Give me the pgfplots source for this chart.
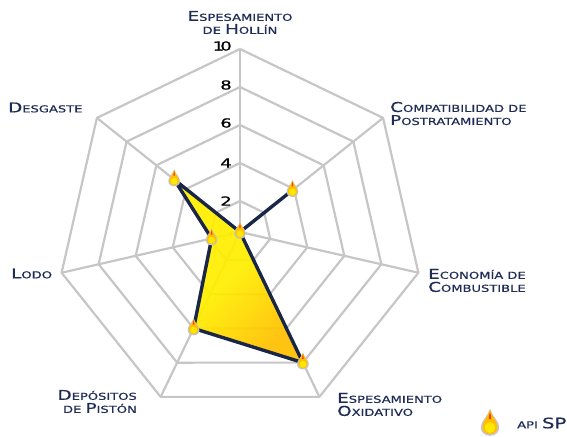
\documentclass[border=0pt]{standalone}
\usepackage{fontspec}
\usepackage{pgfplots}
\usepackage{pgfplotstable}
\pgfplotsset{compat=1.18}
\setmainfont{DejaVu Sans}
\newfontfamily\eu[FakeStretch=1.36,FakeBold=0.6]{DejaVu Sans}
\newfontfamily\tickf[FakeStretch=1.45,FakeBold=0.8]{DejaVu Sans}
\definecolor{navy}{HTML}{1A2647}
\definecolor{gridg}{HTML}{C6C6C6}
\definecolor{labc}{HTML}{1F2C55}
\definecolor{ylw}{HTML}{FFEE00}
\definecolor{org}{HTML}{FFBE00}
\newcommand{\Cp}[2]{{\fontsize{13.5}{13}\selectfont #1}{\fontsize{9.6}{13}\selectfont #2}}
\tikzset{lbl/.style={inner sep=0pt,text=labc,font=\eu\fontsize{9.6}{13}\selectfont},
         tk/.style={anchor=east,font=\tickf\fontsize{12.5}{14}\selectfont,inner sep=0pt}}
\pgfplotstableread{
k v
0 10
1 10
2 10
3 10
4 10
5 10
6 10
7 10
}\ringA
\pgfplotstableread{
n v
0 0.37
1 10
}\spoke
\pgfplotstableread{
k v
0 0.37
1 3.9
2 0.37
3 8
4 6
5 1.9
6 4.8
7 0.37
}\series
\pgfplotstableread{
k v
0 0.37
1 3.9
3 8
4 6
5 1.9
6 4.8
}\points
\newcommand{\px}{240+(19*\thisrow{v}-7)*sin(\thisrow{k}*360/7)}
\newcommand{\py}{232-(19*\thisrow{v}-7)*cos(\thisrow{k}*360/7)}
\pgfdeclareplotmark{dropshape}{%
  \pgfsetlinewidth{0pt}%
  \pgfsetfillcolor{black!22}%
  \pgfpathmoveto{\pgfqpoint{0pt}{11pt}}%
  \pgfpathcurveto{\pgfqpoint{1pt}{6pt}}{\pgfqpoint{6.2pt}{3pt}}{\pgfqpoint{6.2pt}{-1.5pt}}%
  \pgfpathcurveto{\pgfqpoint{6.2pt}{-5pt}}{\pgfqpoint{3.4pt}{-7.2pt}}{\pgfqpoint{0pt}{-7.2pt}}%
  \pgfpathcurveto{\pgfqpoint{-3.4pt}{-7.2pt}}{\pgfqpoint{-6.2pt}{-5pt}}{\pgfqpoint{-6.2pt}{-1.5pt}}%
  \pgfpathcurveto{\pgfqpoint{-6.2pt}{3pt}}{\pgfqpoint{-1pt}{6pt}}{\pgfqpoint{0pt}{11pt}}%
  \pgfpathclose\pgfusepath{fill}%
  \pgfsetfillcolor{org}%
  \pgfpathmoveto{\pgfqpoint{0pt}{10pt}}%
  \pgfpathcurveto{\pgfqpoint{0.8pt}{6pt}}{\pgfqpoint{5pt}{2.5pt}}{\pgfqpoint{5pt}{-1.5pt}}%
  \pgfpathcurveto{\pgfqpoint{5pt}{-4.2pt}}{\pgfqpoint{2.8pt}{-6pt}}{\pgfqpoint{0pt}{-6pt}}%
  \pgfpathcurveto{\pgfqpoint{-2.8pt}{-6pt}}{\pgfqpoint{-5pt}{-4.2pt}}{\pgfqpoint{-5pt}{-1.5pt}}%
  \pgfpathcurveto{\pgfqpoint{-5pt}{2.5pt}}{\pgfqpoint{-0.8pt}{6pt}}{\pgfqpoint{0pt}{10pt}}%
  \pgfpathclose\pgfusepath{fill}%
  \pgfsetfillcolor{ylw!85!org}%
  \pgfpathcircle{\pgfqpoint{0pt}{-1.8pt}}{3.6pt}\pgfusepath{fill}%
  \pgfsetfillcolor{red!60!orange}%
  \pgfpathmoveto{\pgfqpoint{0pt}{9pt}}%
  \pgfpathcurveto{\pgfqpoint{0.3pt}{7pt}}{\pgfqpoint{1pt}{5pt}}{\pgfqpoint{0.8pt}{4pt}}%
  \pgfpathlineto{\pgfqpoint{-0.8pt}{4pt}}%
  \pgfpathcurveto{\pgfqpoint{-1pt}{5pt}}{\pgfqpoint{-0.3pt}{7pt}}{\pgfqpoint{0pt}{9pt}}%
  \pgfpathclose\pgfusepath{fill}%
}
\pgfdeclareplotmark{drop}{\pgftransformscale{0.95}\pgfuseplotmark{dropshape}}
\pgfdeclareplotmark{bigdrop}{\pgftransformscale{1.5}\pgfuseplotmark{dropshape}}
\begin{document}
\begin{tikzpicture}[x=1pt,y=1pt]
\useasboundingbox (0,0) rectangle (567,436);
\begin{axis}[
  at={(0,0)},anchor=south west,scale only axis,
  width=567pt,height=436pt,
  xmin=0,xmax=567,ymin=0,ymax=436,y dir=reverse,
  hide axis,clip=false]
% spokes
\pgfplotsinvokeforeach{0,1,2,3,4,5,6}{
  \addplot[gridg,line width=2.2pt,forget plot] table[
     x expr={240+(19*\thisrow{v}-7)*sin(#1*360/7)},
     y expr={232-(19*\thisrow{v}-7)*cos(#1*360/7)}] \spoke;
}
% rings
\pgfplotsinvokeforeach{2,4,6,8,10}{
  \addplot[gridg,line width=2.2pt,line join=round,forget plot] table[
     x expr={240+(19*#1-7)*sin(\thisrow{k}*360/7)},
     y expr={232-(19*#1-7)*cos(\thisrow{k}*360/7)}] \ringA;
}
% area
\addplot[draw=none,fill opacity=0.93,shade,
   top color=org,bottom color=ylw,middle color=ylw,shading angle=-135,forget plot] table[x expr={\px},y expr={\py}] \series;
\addplot[navy,line width=3.4pt,line join=round,forget plot] table[x expr={\px},y expr={\py}] \series;
\addplot[only marks,mark=drop,forget plot] table[x expr={\px},y expr={\py}] \points;
\addplot[only marks,mark=bigdrop,forget plot] coordinates {(490,425)};

\node[lbl,align=center,anchor=center] at (axis cs:240,22.5) {\Cp{E}{SPESAMIENTO}\\\Cp{}{DE }\Cp{H}{OLLÍN}};
\node[lbl,align=left,anchor=west] at (axis cs:390,113.5) {\Cp{C}{OMPATIBILIDAD DE}\\\Cp{P}{OSTRATAMIENTO}};
\node[lbl,align=left,anchor=west] at (axis cs:428,280.5) {\Cp{E}{CONOMÍA DE}\\\Cp{C}{OMBUSTIBLE}};
\node[lbl,align=left,anchor=west] at (axis cs:337,404.5) {\Cp{E}{SPESAMIENTO}\\\Cp{O}{XIDATIVO}};
\node[lbl,align=right,anchor=east] at (axis cs:137,401.5) {\Cp{D}{EPÓSITOS}\\\Cp{}{DE }\Cp{P}{ISTÓN}};
\node[lbl,anchor=west] at (axis cs:11,273.5) {\Cp{L}{ODO}};
\node[lbl,anchor=west] at (axis cs:8,107.5) {\Cp{D}{ESGASTE}};
\node[lbl,anchor=west] at (axis cs:517,423) {\Cp{}{API }{\fontsize{14.5}{13}\selectfont SP}};
\node[tk] at (axis cs:232,46) {1\kern-4pt 0};
\node[tk] at (axis cs:232,85) {8};
\node[tk] at (axis cs:232,123) {6};
\node[tk] at (axis cs:232,163) {4};
\node[tk] at (axis cs:232,201) {2};
\end{axis}
\end{tikzpicture}
\end{document}
